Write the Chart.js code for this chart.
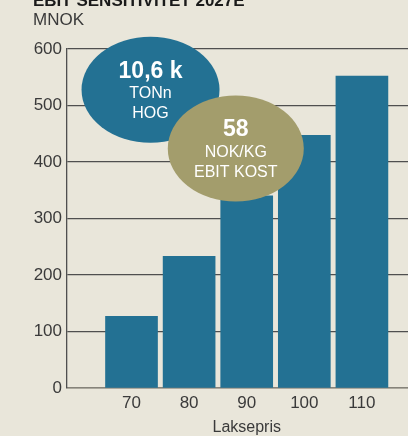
<!DOCTYPE html>
<html>
<head>
<meta charset="utf-8">
<script src="https://cdn.jsdelivr.net/npm/chart.js@4"></script>
<style>
  html, body { margin: 0; padding: 0; background: #e9e6da; }
  canvas { display: block; }
</style>
</head>
<body>
<canvas id="chart" width="408" height="436"></canvas>
<script>
// data
const categories = [70, 80, 90, 100, 110];
const ebitValues = [127, 233, 340, 447, 552];
const yTickValues = [0, 100, 200, 300, 400, 500, 600];

const titleText = 'EBIT SENSITIVITET 2027E';
const unitText = 'MNOK';
const xTitleText = 'Laksepris';

// bubbles, placed in data units (x = laksepris, y = MNOK)
const bubbles = [
    { x: 73.3, y: 528, rx: 69, ry: 53, color: '#237193', big: '10,6 k', lines: ['TONn', 'HOG'] },
    { x: 88.1, y: 424, rx: 68, ry: 53, color: '#a39d6c', big: '58', lines: ['NOK/KG', 'EBIT KOST'] }
];

const barColor = '#237193';
const textColor = '#3a3a3a';
const fontFamily = "'Liberation Sans', Arial, sans-serif";

const extrasPlugin = {
    id: 'extras',
    beforeDraw(chart) {
        const ctx = chart.ctx;
        ctx.save();
        ctx.fillStyle = '#e9e6da';
        ctx.fillRect(0, 0, chart.width, chart.height);
        ctx.restore();
    },
    afterDatasetsDraw(chart) {
        const ctx = chart.ctx;
        const xs = chart.scales.x;
        const ys = chart.scales.y;
        ctx.save();
        bubbles.forEach(b => {
            const cx = xs.getPixelForValue(b.x);
            const cy = ys.getPixelForValue(b.y);
            ctx.fillStyle = b.color;
            ctx.beginPath();
            ctx.ellipse(cx, cy, b.rx, b.ry, 0, 0, Math.PI * 2);
            ctx.fill();

            ctx.fillStyle = '#ffffff';
            ctx.textAlign = 'center';
            ctx.textBaseline = 'alphabetic';
            ctx.font = 'bold 23px ' + fontFamily;
            ctx.fillText(b.big, cx, cy - 12);
            ctx.font = '16px ' + fontFamily;
            b.lines.forEach((line, i) => {
                ctx.fillText(line, cx, cy + 8.5 + i * 20);
            });
        });

        // header texts
        ctx.fillStyle = '#1a1a1a';
        ctx.textAlign = 'left';
        ctx.font = 'bold 17px ' + fontFamily;
        ctx.fillText(titleText, 33, 5.5);
        ctx.fillStyle = textColor;
        ctx.font = '17px ' + fontFamily;
        ctx.fillText(unitText, 33, 25);

        // x axis title, centred under the bars
        ctx.font = '16px ' + fontFamily;
        ctx.textAlign = 'center';
        ctx.textBaseline = 'middle';
        ctx.fillText(xTitleText, xs.getPixelForValue(90), 428);
        ctx.restore();
    }
};

new Chart(document.getElementById('chart'), {
    type: 'bar',
    data: {
        datasets: [{
            data: categories.map((c, i) => ({ x: c, y: ebitValues[i] })),
            backgroundColor: barColor,
            barThickness: 52
        }]
    },
    options: {
        responsive: false,
        animation: false,
        devicePixelRatio: 1,
        layout: { padding: { top: 49, right: 0, left: 0, bottom: 0 } },
        plugins: {
            legend: { display: false },
            tooltip: { enabled: false }
        },
        scales: {
            x: {
                type: 'linear',
                offset: false,
                min: 58.8,
                max: 118,
                afterBuildTicks: s => { s.ticks = categories.map(v => ({ value: v })); },
                afterFit: s => { s.height = 48; },
                grid: { display: false, drawTicks: false },
                border: { display: true, color: '#86837a', width: 1.5 },
                ticks: {
                    padding: 5,
                    autoSkip: false,
                    maxRotation: 0,
                    color: textColor,
                    font: { family: fontFamily, size: 17 },
                    callback: v => v
                }
            },
            y: {
                min: 0,
                max: 600,
                afterBuildTicks: s => { s.ticks = yTickValues.map(v => ({ value: v })); },
                afterFit: s => { s.width = 67; },
                grid: {
                    drawTicks: false,
                    lineWidth: 1.3,
                    color: ctx => ctx.tick && ctx.tick.value === 0 ? '#86837a' : '#4f4f4f'
                },
                border: { display: true, color: '#4f4f4f', width: 1.3 },
                ticks: {
                    padding: 5,
                    color: textColor,
                    font: { family: fontFamily, size: 17 }
                }
            }
        }
    },
    plugins: [extrasPlugin]
});
</script>
</body>
</html>
